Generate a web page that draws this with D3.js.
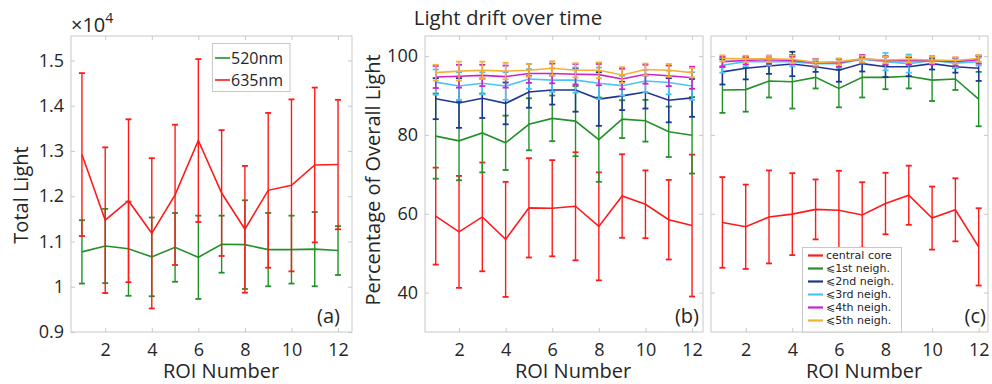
<!DOCTYPE html>
<html>
<head>
<meta charset="utf-8">
<script src="https://cdn.jsdelivr.net/npm/d3@7"></script>
<style>
  body { margin: 0; background: #fff; }
  text { font-family: "Open Sans", "DejaVu Sans", sans-serif; fill: #262626; }
  .axis path, .axis line { stroke: #c8c8c8; }
  .axis text { font-size: 18px; fill: #262626; font-family: "Open Sans", sans-serif; }
</style>
</head>
<body>
<svg id="chart" width="992" height="384"></svg>
<script>
// ROI numbers along x
const roi = [1, 2, 3, 4, 5, 6, 7, 8, 9, 10, 11, 12];

// (a) total light, x10^4
const green520 = [1.077, 1.090, 1.084, 1.066, 1.087, 1.065, 1.094, 1.093, 1.082, 1.082, 1.083, 1.080];
const green520Err = [0.070, 0.082, 0.104, 0.087, 0.076, 0.092, 0.063, 0.098, 0.081, 0.075, 0.082, 0.054];
const red635 = [1.292, 1.147, 1.190, 1.118, 1.203, 1.323, 1.207, 1.127, 1.213, 1.224, 1.269, 1.270];
const red635Err = [0.180, 0.161, 0.180, 0.166, 0.155, 0.180, 0.139, 0.140, 0.171, 0.190, 0.171, 0.143];

// (b) percentage of overall light
const bCore = [59.4, 55.4, 59.2, 53.5, 61.5, 61.4, 61.9, 56.8, 64.5, 62.4, 58.5, 57.0];
const bCoreErr = [12.3, 14.2, 13.8, 14.6, 12.6, 12.2, 13.7, 13.7, 10.6, 8.6, 10.1, 18.0];
const bN1 = [79.7, 78.5, 80.5, 78.0, 82.7, 84.2, 83.5, 78.8, 84.0, 83.6, 80.8, 79.9];
const bN1Err = [10.8, 10.0, 10.0, 6.9, 6.6, 5.8, 8.9, 10.7, 4.8, 5.3, 6.4, 9.7];
const bN2 = [89.2, 88.1, 89.3, 88.0, 90.9, 91.4, 91.4, 89.1, 89.9, 90.9, 88.8, 89.4];
const bN2Err = [5.2, 6.3, 5.0, 5.3, 4.0, 3.7, 5.5, 6.8, 3.6, 4.2, 5.6, 4.8];
const bN3 = [93.4, 92.4, 93.1, 92.4, 94.2, 93.9, 93.9, 93.1, 92.5, 93.7, 93.3, 92.4];
const bN3Err = [3.2, 3.5, 2.8, 3.5, 2.5, 3.0, 3.2, 4.0, 2.5, 2.8, 3.0, 3.5];
const bN4 = [94.7, 94.9, 95.1, 94.8, 95.6, 95.6, 95.4, 95.3, 94.2, 95.4, 95.0, 94.5];
const bN4Err = [2.8, 2.9, 2.7, 2.8, 2.4, 2.5, 2.6, 2.7, 2.6, 2.4, 2.6, 2.8];
const bN5 = [95.8, 96.2, 96.4, 96.2, 96.4, 96.9, 96.4, 96.4, 95.2, 96.6, 96.4, 95.8];
const bN5Err = [2.0, 2.4, 2.2, 2.1, 1.6, 1.8, 1.8, 2.0, 2.0, 1.5, 1.6, 1.2];

// (c) percentage of overall light
const cCore = [57.8, 56.7, 59.2, 59.9, 61.1, 60.9, 59.7, 62.6, 64.7, 58.9, 61.0, 51.6];
const cCoreErr = [11.5, 10.7, 11.8, 10.4, 7.6, 10.0, 8.3, 7.8, 7.5, 8.0, 8.0, 9.8];
const cN1 = [91.4, 91.5, 93.7, 93.5, 94.6, 91.8, 94.6, 94.6, 94.9, 93.9, 94.2, 89.1];
const cN1Err = [5.8, 5.6, 4.2, 6.8, 2.8, 4.8, 5.1, 3.0, 3.1, 5.3, 2.8, 6.9];
const cN2 = [96.0, 96.9, 97.5, 98.0, 97.3, 96.4, 98.1, 97.3, 97.3, 98.1, 97.3, 96.9];
const cN2Err = [3.2, 2.8, 2.0, 3.1, 1.3, 2.9, 2.0, 2.6, 2.4, 1.5, 1.5, 3.2];
const cN3 = [97.7, 98.6, 98.6, 98.6, 98.1, 98.1, 99.2, 98.6, 98.1, 98.9, 98.2, 98.6];
const cN3Err = [1.9, 1.2, 1.0, 1.2, 1.0, 1.0, 1.0, 2.2, 2.3, 1.0, 1.2, 1.0];
const cN4 = [98.6, 98.9, 99.1, 98.9, 98.3, 98.3, 99.3, 98.9, 98.8, 98.9, 98.6, 99.1];
const cN4Err = [1.2, 1.0, 1.0, 1.0, 1.0, 1.0, 1.0, 1.0, 1.0, 1.0, 1.0, 1.0];
const cN5 = [99.4, 99.3, 99.3, 99.2, 98.4, 98.6, 99.3, 99.0, 99.2, 99.0, 98.9, 99.4];
const cN5Err = [0.8, 0.8, 0.8, 1.0, 0.8, 0.8, 0.8, 0.8, 0.8, 0.8, 0.8, 0.8];

const xTicks = [2, 4, 6, 8, 10, 12];
const aTicks = [0.9, 1.0, 1.1, 1.2, 1.3, 1.4, 1.5];
const pctTicks = [40, 60, 80, 100];
const waveNames = ['520nm', '635nm'];
const neighNames = ['central core', '\u2A7D1st neigh.', '\u2A7D2nd neigh.', '\u2A7D3rd neigh.', '\u2A7D4th neigh.', '\u2A7D5th neigh.'];
const colors = ['#ff1a1a', '#23912a', '#1f3594', '#4cc4f2', '#cc22cc', '#f2b134'];

const svg = d3.select('#chart');

// draws one panel box with inward ticks on all four sides
function panel(box, xDomain, yDomain, yTicks, yFmt, showYLabels) {
  const x = d3.scaleLinear().domain(xDomain).range([box.left, box.right]);
  const y = d3.scaleLinear().domain(yDomain).range([box.bottom, box.top]);
  const g = svg.append('g');

  g.append('rect')
    .attr('x', box.left).attr('y', box.top)
    .attr('width', box.right - box.left).attr('height', box.bottom - box.top)
    .attr('fill', 'none').attr('stroke', '#c8c8c8');

  g.append('g').attr('class', 'axis')
    .attr('transform', 'translate(0,' + box.bottom + ')')
    .call(d3.axisBottom(x).tickValues(xTicks).tickSizeInner(-4).tickSizeOuter(0).tickPadding(11).tickFormat(d3.format('d')))
    .call(s => s.select('.domain').remove());
  g.append('g').attr('class', 'axis')
    .attr('transform', 'translate(0,' + box.top + ')')
    .call(d3.axisTop(x).tickValues(xTicks).tickSizeInner(-4).tickSizeOuter(0).tickFormat(''))
    .call(s => s.select('.domain').remove());
  g.append('g').attr('class', 'axis')
    .attr('transform', 'translate(' + box.left + ',0)')
    .call(d3.axisLeft(y).tickValues(yTicks).tickSizeInner(-4).tickSizeOuter(0).tickPadding(7)
      .tickFormat(showYLabels ? yFmt : ''))
    .call(s => s.select('.domain').remove());
  g.append('g').attr('class', 'axis')
    .attr('transform', 'translate(' + box.right + ',0)')
    .call(d3.axisRight(y).tickValues(yTicks).tickSizeInner(-4).tickSizeOuter(0).tickFormat(''))
    .call(s => s.select('.domain').remove());

  return { g, x, y };
}

function errSeries(p, means, errs, color) {
  const pts = roi.map((r, i) => ({ r, m: means[i], e: errs[i] }));
  const eg = p.g.append('g').attr('stroke', color).attr('stroke-width', 1.4).attr('fill', 'none');
  pts.forEach(d => {
    const xp = p.x(d.r);
    eg.append('line').attr('x1', xp).attr('x2', xp).attr('y1', p.y(d.m - d.e)).attr('y2', p.y(d.m + d.e));
    [d.m - d.e, d.m + d.e].forEach(v => {
      eg.append('line').attr('x1', xp - 3).attr('x2', xp + 3).attr('y1', p.y(v)).attr('y2', p.y(v)).attr('stroke-width', 1.8);
    });
  });
  p.g.append('path').datum(pts)
    .attr('fill', 'none').attr('stroke', color).attr('stroke-width', 1.6)
    .attr('d', d3.line().x(d => p.x(d.r)).y(d => p.y(d.m)));
}

// panel (a)
const pa = panel({ left: 71, right: 352, top: 36, bottom: 332 }, [0.53, 12.6], [0.9, 1.554], aTicks,
  d => d3.format('.1f')(d).replace(/\.0$/, ''), true);
errSeries(pa, green520, green520Err, colors[1]);
errSeries(pa, red635, red635Err, colors[0]);

// panel (b)
const pb = panel({ left: 425, right: 703, top: 36, bottom: 332 }, [0.54, 12.47], [30, 105.1], pctTicks, d3.format('d'), true);
[[bCore, bCoreErr], [bN1, bN1Err], [bN2, bN2Err], [bN3, bN3Err], [bN4, bN4Err], [bN5, bN5Err]]
  .forEach((s, i) => errSeries(pb, s[0], s[1], colors[i]));

// panel (c)
const pc = panel({ left: 711, right: 988, top: 36, bottom: 332 }, [0.51, 12.4], [30, 105.1], pctTicks, d3.format('d'), false);
[[cCore, cCoreErr], [cN1, cN1Err], [cN2, cN2Err], [cN3, cN3Err], [cN4, cN4Err], [cN5, cN5Err]]
  .forEach((s, i) => errSeries(pc, s[0], s[1], colors[i]));

// exponent label
const ex = svg.append('text').attr('x', 71).attr('y', 32).style('font-size', '20px');
ex.append('tspan').text('\u00D710');
ex.append('tspan').attr('dy', -9).style('font-size', '14px').text('4');

// titles and axis labels
svg.append('text').attr('x', 508).attr('y', 25).attr('text-anchor', 'middle').style('font-size', '20.5px').text('Light drift over time');
[221, 573, 864].forEach(cx => {
  svg.append('text').attr('x', cx).attr('y', 377.5).attr('text-anchor', 'middle').style('font-size', '20px').text('ROI Number');
});
svg.append('text').attr('transform', 'translate(28,195) rotate(-90)').attr('text-anchor', 'middle').style('font-size', '20px').text('Total Light');
svg.append('text').attr('transform', 'translate(380,180) rotate(-90)').attr('text-anchor', 'middle').style('font-size', '20px').text('Percentage of Overall Light');
[[340, '(a)'], [699, '(b)'], [986, '(c)']].forEach(d => {
  svg.append('text').attr('x', d[0]).attr('y', 323).attr('text-anchor', 'end').style('font-size', '20px').text(d[1]);
});

// legend (a)
const la = svg.append('g');
la.append('rect').attr('x', 212.5).attr('y', 43.5).attr('width', 77.5).attr('height', 48)
  .attr('fill', '#fff').attr('stroke', '#c8c8c8');
waveNames.forEach((n, i) => {
  const yy = 58 + i * 22;
  la.append('line').attr('x1', 215).attr('x2', 230).attr('y1', yy).attr('y2', yy)
    .attr('stroke', colors[1 - i]).attr('stroke-width', 1.6);
  la.append('text').attr('x', 231).attr('y', yy).attr('dy', '0.35em').style('font-size', '16px').text(n);
});

// legend (c)
const lc = svg.append('g');
lc.append('rect').attr('x', 802.5).attr('y', 247.5).attr('width', 99).attr('height', 84.5)
  .attr('fill', '#fff').attr('stroke', '#c8c8c8');
neighNames.forEach((n, i) => {
  const yy = 255.5 + i * 13;
  lc.append('line').attr('x1', 808).attr('x2', 823).attr('y1', yy).attr('y2', yy)
    .attr('stroke', colors[i]).attr('stroke-width', 2.2);
  lc.append('text').attr('x', 826).attr('y', yy).attr('dy', '0.35em')
    .style('font-family', '"DejaVu Sans", sans-serif').style('font-size', '11px').text(n);
});
</script>
</body>
</html>
